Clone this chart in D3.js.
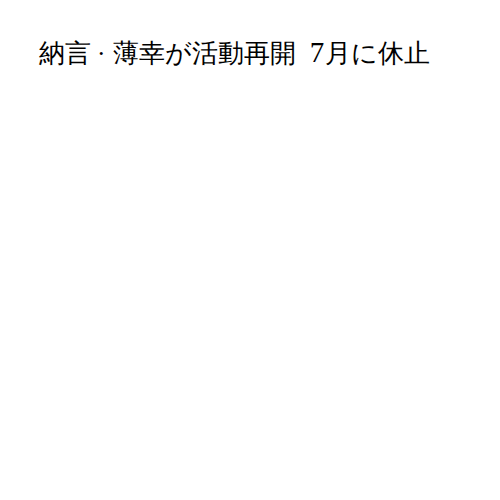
<!DOCTYPE html>
<html>
<head>
    <meta charset="utf-8">
    <title>納言·薄幸が活動再開</title>
    <script src="https://d3js.org/d3.v7.min.js"></script>
    <style>
        body { margin: 0; background: #fff; }
    </style>
</head>
<body>

<script>
// the chart only carries a headline, no marks
const titleParts = ['納言', '·', '薄幸が活動再開', ' 7', '月に休止'];

const width = 500;
const height = 500;

const svg = d3.select('body')
    .append('svg')
    .attr('width', width)
    .attr('height', height);

const title = svg.append('text')
    .attr('x', 39)
    .attr('y', 62)
    .attr('font-family', 'serif')
    .attr('font-size', 25.5)
    .attr('fill', '#000');

// the middle dot and the space sit wider in the original, pad them out
const gaps = [0, 6, 7, 7, 1];
title.selectAll('tspan')
    .data(titleParts)
    .enter()
    .append('tspan')
    .attr('dx', (d, i) => gaps[i])
    .attr('font-size', d => d === ' 7' ? 29 : null)
    .text(d => d);
</script>

</body>
</html>
